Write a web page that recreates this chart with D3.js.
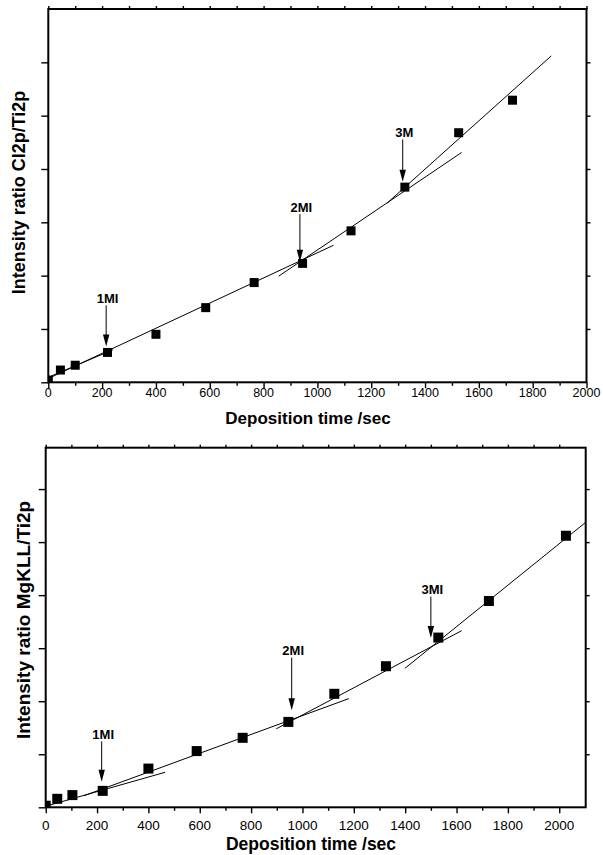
<!DOCTYPE html>
<html><head><meta charset="utf-8">
<script src="https://cdn.jsdelivr.net/npm/d3@7/dist/d3.min.js"></script>
<style>
body{margin:0;background:#fff}
svg{display:block}
text{font-family:"Liberation Sans",Arial,Helvetica,sans-serif;fill:#000}
</style>
</head><body>
<svg id="chart" width="603" height="855"></svg>
<script>
// ---------- shared axis data ----------
const xTickValues = [0,200,400,600,800,1000,1200,1400,1600,1800,2000];
const xMinorValues = [100,300,500,700,900,1100,1300,1500,1700,1900];
const yTickValues = [0,1,2,3,4,5,6];

// ---------- top panel: Cl2p/Ti2p ----------
const clTime  = [0,45,100,220,400,585,765,945,1125,1325,1525,1725];
const clRatio = [0.04,0.23,0.32,0.56,0.90,1.40,1.87,2.23,2.84,3.66,4.68,5.29];
// fitted line segments: [t0, v0, t1, v1]
const clFits = [[-30,0.03,240,0.61],[-30,0.00,1060,2.57],[856,1.99,1536,4.31],[1259,3.36,1869,6.12]];
const clMarkNames = ["1MI","2MI","3M"];
const clMarkTime  = [215,935,1317];
const clMarkTip   = [0.67,2.26,3.76];
const clMarkText  = [1.49,3.20,4.60];

// ---------- bottom panel: MgKLL/Ti2p ----------
const mgTime  = [0,45,104,222,400,588,767,945,1124,1325,1529,1726,2026];
const mgRatio = [0.03,0.16,0.23,0.31,0.73,1.06,1.31,1.61,2.14,2.66,3.20,3.89,5.12];
const mgFits = [[0,0.02,465,0.66],[150,0.22,1181,2.05],[898,1.48,1620,3.33],[1399,2.62,2110,5.40]];
const mgMarkNames = ["1MI","2MI","3MI"];
const mgMarkTime  = [218,958,1500];
const mgMarkTip   = [0.48,1.83,3.19];
const mgMarkText  = [1.29,2.87,4.02];

const svg = d3.select("#chart");

function panel(cfg){
  const x = d3.scaleLinear().domain([0,cfg.xMax]).range([cfg.left,cfg.right]);
  const y = d3.scaleLinear().domain([0,cfg.yMax]).range([cfg.bottom,cfg.top]);
  const g = svg.append("g");
  const clipId = "clip"+cfg.id;
  svg.append("defs").append("clipPath").attr("id",clipId)
    .append("rect").attr("x",cfg.left).attr("y",cfg.top)
    .attr("width",cfg.right-cfg.left).attr("height",cfg.bottom-cfg.top);

  // fit lines
  g.append("g").attr("clip-path",`url(#${clipId})`)
    .selectAll("line").data(cfg.fits).join("line")
    .attr("x1",d=>x(d[0])).attr("y1",d=>y(d[1]))
    .attr("x2",d=>x(d[2])).attr("y2",d=>y(d[3]))
    .attr("stroke","#000").attr("stroke-width",1);

  // markers
  const pts = cfg.time.map((t,i)=>({t, v:cfg.ratio[i]}));
  g.append("g").attr("clip-path",`url(#${clipId})`)
    .selectAll("rect").data(pts).join("rect")
    .attr("x",d=>x(d.t)-cfg.ms/2).attr("y",d=>y(d.v)-cfg.ms/2)
    .attr("width",cfg.ms).attr("height",cfg.ms).attr("fill","#000");

  // axes ticks
  const noFmt = ()=>"";
  const ax = (axis)=>g.append("g").call(axis).call(s=>s.select(".domain").remove())
      .call(s=>s.selectAll("line").attr("stroke","#000").attr("stroke-width",1.4));
  ax(d3.axisBottom(x).tickValues(xTickValues).tickSize(6).tickFormat(noFmt)).attr("transform",`translate(0,${cfg.bottom})`);
  ax(d3.axisBottom(x).tickValues(xMinorValues).tickSize(3.5).tickFormat(noFmt)).attr("transform",`translate(0,${cfg.bottom})`);
  ax(d3.axisTop(x).tickValues(xTickValues.concat(xMinorValues)).tickSize(3).tickFormat(noFmt)).attr("transform",`translate(0,${cfg.top})`);
  ax(d3.axisLeft(y).tickValues(yTickValues).tickSize(7).tickFormat(noFmt)).attr("transform",`translate(${cfg.left},0)`);
  ax(d3.axisRight(y).tickValues(yTickValues.slice(1)).tickSize(4).tickFormat(noFmt)).attr("transform",`translate(${cfg.right},0)`);

  // frame
  g.append("rect").attr("x",cfg.left).attr("y",cfg.top)
    .attr("width",cfg.right-cfg.left).attr("height",cfg.bottom-cfg.top)
    .attr("fill","none").attr("stroke","#000").attr("stroke-width",2);

  // tick labels
  g.append("g").selectAll("text").data(xTickValues).join("text")
    .attr("x",d=>x(d)).attr("y",cfg.bottom+cfg.tickLabelDy)
    .attr("text-anchor","middle").style("font-size",cfg.tickFont+"px")
    .text(d=>d);

  // axis titles
  g.append("text").attr("x",cfg.xTitleX).attr("y",cfg.xTitleY)
    .attr("text-anchor","middle").style("font-size",cfg.xTitleFont+"px").style("font-weight","bold")
    .text("Deposition time /sec");
  g.append("text").attr("transform",`translate(${cfg.yTitleX},${cfg.yTitleY}) rotate(-90)`)
    .attr("text-anchor","middle").style("font-size",cfg.yTitleFont+"px").style("font-weight","bold")
    .text(cfg.yTitle);

  // annotation arrows
  const marks = cfg.markNames.map((n,i)=>({n, t:cfg.markTime[i], tip:cfg.markTip[i], tv:cfg.markText[i]}));
  const mg = g.append("g");
  mg.selectAll("line").data(marks).join("line")
    .attr("x1",d=>x(d.t)).attr("x2",d=>x(d.t))
    .attr("y1",d=>y(d.tv)+2.5).attr("y2",d=>y(d.tip)-10)
    .attr("stroke","#000").attr("stroke-width",1);
  mg.selectAll("path").data(marks).join("path")
    .attr("d",d=>{const px=x(d.t), py=y(d.tip); return `M${px-3.2},${py-12}L${px+3.2},${py-12}L${px},${py}Z`;})
    .attr("fill","#000");
  mg.selectAll("text").data(marks).join("text")
    .attr("x",d=>x(d.t)+1.5).attr("y",d=>y(d.tv))
    .attr("text-anchor","middle").style("font-size","13px").style("font-weight","bold")
    .text(d=>d.n);
}

panel({id:"top", xMax:2000, yMax:7, left:48.3, right:586.5, top:9, bottom:382.3,
  time:clTime, ratio:clRatio, fits:clFits, ms:9,
  markNames:clMarkNames, markTime:clMarkTime, markTip:clMarkTip, markText:clMarkText,
  tickFont:12.5, tickLabelDy:14.5, xTitleX:308, xTitleY:424, xTitleFont:17,
  yTitle:"Intensity ratio Cl2p/Ti2p", yTitleX:24.5, yTitleY:192.5, yTitleFont:18});

panel({id:"bot", xMax:2103, yMax:6.78, left:45.7, right:585.7, top:447.7, bottom:807.3,
  time:mgTime, ratio:mgRatio, fits:mgFits, ms:10,
  markNames:mgMarkNames, markTime:mgMarkTime, markTip:mgMarkTip, markText:mgMarkText,
  tickFont:13.5, tickLabelDy:22.3, xTitleX:311, xTitleY:850, xTitleFont:17.5,
  yTitle:"Intensity ratio MgKLL/Ti2p", yTitleX:30, yTitleY:620, yTitleFont:19});
</script>
</body></html>
